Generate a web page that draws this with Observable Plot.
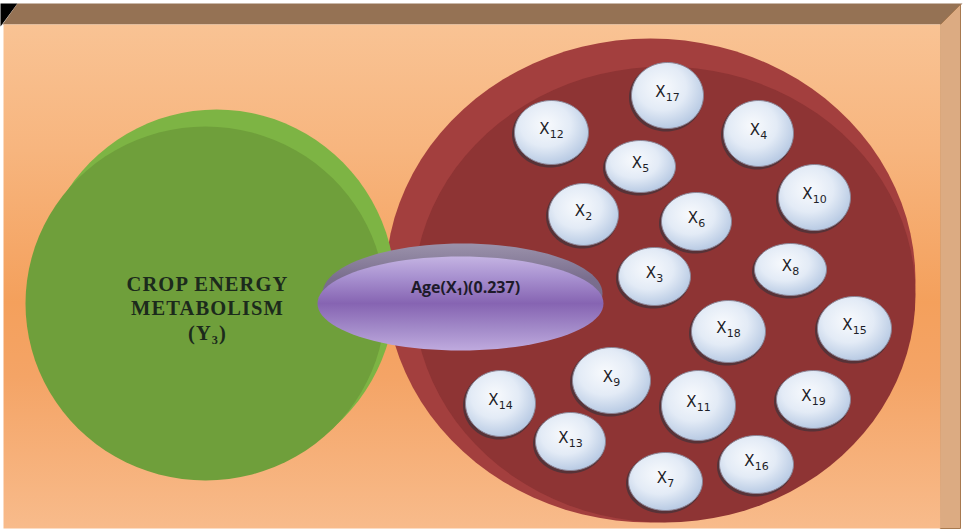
<!DOCTYPE html>
<html><head><meta charset="utf-8">
<script src="https://cdn.jsdelivr.net/npm/d3@7"></script>
<script src="https://cdn.jsdelivr.net/npm/@observablehq/plot@0.6"></script>
<style>html,body{margin:0;padding:0;background:#fff;} svg{display:block}</style>
</head><body><div id="chart"></div>
<script>
// ---------------- data ----------------
const factorIds  = [17, 12, 4, 5, 10, 2, 6, 3, 8, 18, 15, 9, 14, 11, 19, 13, 16, 7];
const dependentLabel = ["CROP ENERGY", "METABOLISM", "(Y₃)"];
const linkLabel = "Age(X₁)(0.237)";

// ---------------- layout (diagram coordinates) ----------------
const factorCx = [667, 551, 758, 640, 814, 583, 696, 654, 790, 728, 854, 611, 500, 698, 813, 570, 756, 665];
const factorCy = [ 95, 132, 133, 166, 197, 214, 221, 276, 269, 331, 328, 380, 403, 405, 399, 441, 464, 481];
const factorRx = [ 36,  37,  35,  35,  36,  35,  35,  36,  36,  37,  37,  39,  35,  37,  37,  35,  37,  37];
const factorRy = [ 33,  32,  33,  26,  33,  31,  29,  29,  26,  31,  32,  33,  33,  35,  29,  29,  29,  29];

function ellipse(id, cx, cy, rx, ry, n = 96) {
  return d3.range(n).map(i => {
    const t = 2 * Math.PI * i / n;
    return {id, x: cx + rx * Math.cos(t), y: cy + ry * Math.sin(t)};
  });
}
function poly(id, pts) { return pts.map(([x, y]) => ({id, x, y})); }

const factors = factorIds.map((id, i) => ({id, cx: factorCx[i], cy: factorCy[i], rx: factorRx[i], ry: factorRy[i]}));
const bubbleShadow = factors.flatMap(f => ellipse(f.id, f.cx - 1.5, f.cy + 2, f.rx + 1, f.ry + 1));
const bubbles = factors.flatMap(f => ellipse(f.id, f.cx, f.cy, f.rx, f.ry));

const shape = (data, fill, extra = {}) =>
  Plot.line(data, {x: "x", y: "y", z: "id", fill, stroke: "none", curve: "linear-closed", ...extra});

const svg = Plot.plot({
  width: 965, height: 530, margin: 0,
  x: {domain: [0, 965], axis: null},
  y: {domain: [0, 530], axis: null, reverse: true},
  style: {background: "#fff"},
  marks: [
    // frame
    shape(poly("black", [[0, 3], [17, 3], [0, 26]]), "#000"),
    shape(poly("top", [[2, 24], [17, 3], [962, 3], [940, 24]]), "#957254"),
    shape(poly("side", [[940, 24], [960, 4], [960, 528], [940, 528]]), "#dcab82", {stroke: "#a87a50", strokeWidth: 1}),
    shape(poly("face", [[3, 24], [940, 24], [940, 528], [3, 528]]), "url(#bg)"),
    // red disc
    shape(ellipse("redBack", 650, 280, 265, 242), "#a33f3e"),
    shape(ellipse("redFront", 664, 294, 251, 228), "#8e3434"),
    // green disc
    shape(ellipse("greenBack", 216, 290, 179, 181), "#7db444"),
    shape(ellipse("greenFront", 205, 303, 180, 177), "#6f9f3b"),
    // factor bubbles
    shape(bubbleShadow, "#4d3238", {fillOpacity: 0.85}),
    shape(bubbles, "url(#bubble)", {stroke: "#8c8494", strokeWidth: 1}),
    Plot.text(factors, {x: "cx", y: "cy", dy: -3, text: d => "X" + d.id,
      fontFamily: "DejaVu Sans", fontSize: 15, fill: "#1e1e28"}),
    // link ellipse
    shape(ellipse("purpleRim", 462, 293, 140, 50), "url(#rim)"),
    shape(ellipse("purpleFace", 460, 303, 143, 47), "url(#purple)"),
    Plot.text([linkLabel], {x: 465, y: 287, text: d => d, fontFamily: "Open Sans", fontWeight: "bold",
      fontSize: 16, fill: "#1d1a2a"}),
    // dependent label
    Plot.text([dependentLabel.join("\n")], {x: 207, y: 307, text: d => d, fontFamily: "Liberation Serif",
      fontWeight: "bold", fontSize: 20.5, lineHeight: 1.2, fill: "#1c2a1c"})
  ]
});

const s = d3.select(svg);
const defs = s.insert("defs", ":first-child");
function lin(id, stops, v = true) {
  const g = defs.append("linearGradient").attr("id", id)
    .attr("x1", 0).attr("y1", 0).attr("x2", v ? 0 : 1).attr("y2", v ? 1 : 0);
  stops.forEach(([o, c]) => g.append("stop").attr("offset", o).attr("stop-color", c));
}
lin("bg", [[0, "#f9c394"], [0.25, "#f7b57e"], [0.55, "#f4a05c"], [0.7, "#f4a466"], [1, "#f8bb8b"]]);
lin("purple", [[0, "#c4b3e2"], [0.22, "#a891d0"], [0.5, "#8664b2"], [0.78, "#a48cca"], [1, "#bfaade"]]);
lin("rim", [[0, "#9b92ab"], [0.35, "#7a6e8e"], [1, "#6f6284"]]);
const rg = defs.append("radialGradient").attr("id", "bubble").attr("cx", "42%").attr("cy", "38%").attr("r", "62%");
[[0, "#f8fafd"], [0.55, "#e3ebf6"], [1, "#b9cbe4"]].forEach(([o, c]) => rg.append("stop").attr("offset", o).attr("stop-color", c));

// letter spacing for the dependent label
s.selectAll("text").filter(function () { return /CROP|METAB|Y₃/.test(this.textContent); })
  .attr("letter-spacing", 1.1);

// subscripts for factor labels
s.selectAll("text").filter(function () { return /^X\d+$/.test(this.textContent); }).each(function () {
  const t = d3.select(this);
  const txt = t.text();
  t.text("");
  t.append("tspan").text("X");
  t.append("tspan").text(txt.slice(1)).attr("font-size", 11).attr("dy", 4);
});

document.getElementById("chart").append(svg);
</script>
</body></html>
